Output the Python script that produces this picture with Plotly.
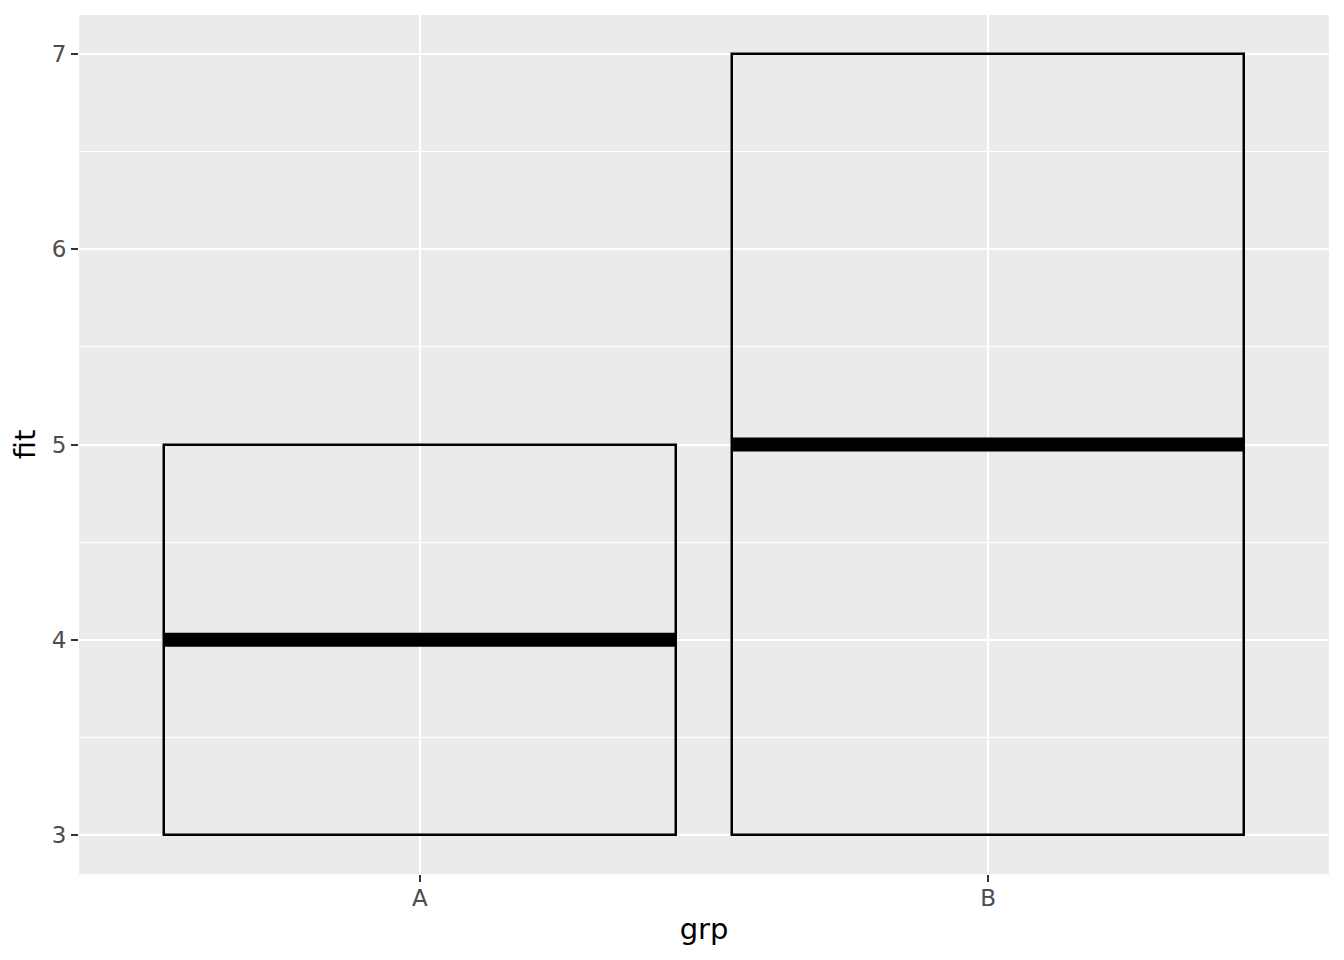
import plotly.graph_objects as go

groups = ["A", "B"]
fit_mid = [4, 5]
fit_lower = [3, 3]
fit_upper = [5, 7]

BAR_WIDTH = 0.9
FONT = "DejaVu Sans"

xpos = list(range(1, len(groups) + 1))

fig = go.Figure()

fig.add_trace(go.Bar(
    x=xpos,
    y=[u - l for u, l in zip(fit_upper, fit_lower)],
    base=fit_lower,
    width=BAR_WIDTH,
    marker=dict(color="rgba(0,0,0,0)", line=dict(color="black", width=2.5)),
    showlegend=False,
    hoverinfo="skip",
))

for xp, m in zip(xpos, fit_mid):
    fig.add_trace(go.Scatter(
        x=[xp - BAR_WIDTH / 2, xp + BAR_WIDTH / 2],
        y=[m, m],
        mode="lines",
        line=dict(color="black", width=14),
        showlegend=False,
        hoverinfo="skip",
    ))

# page body has an 8px margin; compensate so the plot lands where the reference has it
fig.update_layout(
    width=1336,
    height=952,
    margin=dict(l=71, r=15, t=7, b=86),
    paper_bgcolor="white",
    plot_bgcolor="#EBEBEB",
    font=dict(family=FONT, color="black"),
    bargap=0,
)

fig.update_xaxes(
    range=[0.4, len(groups) + 0.6],
    tickvals=xpos,
    ticktext=groups,
    showgrid=True,
    gridcolor="white",
    gridwidth=2.2,
    zeroline=False,
    ticks="outside",
    ticklen=7,
    tickwidth=2,
    tickcolor="#333333",
    ticklabelstandoff=-4,
    tickfont=dict(family=FONT, size=23, color="#4D4D4D"),
    title=dict(text="grp", font=dict(family=FONT, size=29, color="black"), standoff=9),
    showline=False,
)

fig.update_yaxes(
    range=[2.8, 7.2],
    tickvals=[3, 4, 5, 6, 7],
    showgrid=True,
    gridcolor="white",
    gridwidth=2.2,
    zeroline=False,
    ticks="outside",
    ticklen=7,
    tickwidth=2,
    tickcolor="#333333",
    tickfont=dict(family=FONT, size=23, color="#4D4D4D"),
    minor=dict(tickvals=[3.5, 4.5, 5.5, 6.5], showgrid=True, gridcolor="white", gridwidth=1.1, ticks=""),
    title=dict(text="fit", font=dict(family=FONT, size=29, color="black"), standoff=10),
    showline=False,
)

fig.write_html("out.html")
